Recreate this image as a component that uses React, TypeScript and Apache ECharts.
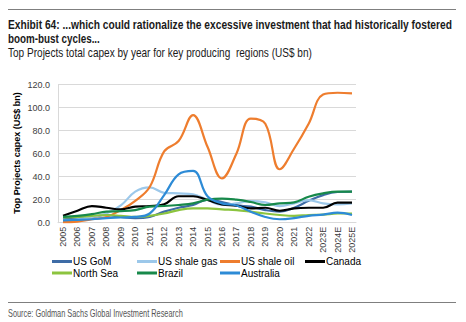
import React, { useEffect, useRef } from "react";
import * as echarts from "echarts";

const years = ["2005","2006","2007","2008","2009","2010","2011","2012","2013","2014","2015","2016","2017","2018","2019","2020","2021","2022","2023E","2024E","2025E"];
const usGoM = [3,4,5,6.7,5,4,5,9.6,13,15.4,20,18,15,14,11,9.6,13,19,24,26.7,27];
const usShaleGas = [2,3,5,8,15,27,30.7,26,25.5,24.6,20,15.4,16.8,18.8,17.7,14.5,16.8,19.7,16.8,16,16.8];
const usShaleOil = [0.5,1,3,5,11,19,31,62,71,93.5,66,38.5,60,90.5,86,46.5,64.5,86,111.5,113,112.5];
const canada = [6,10.4,14.5,13,11.6,14,14.5,16,23,23,19.7,16,14.8,12.5,13,10.4,12.5,13,13,17.4,17.4];
const northSea = [4.6,5,6,6.7,6,5,6,8,11,12.5,12.5,11.6,11,9.6,8,6.7,6,6.7,7,8,8];
const brazil = [5,6,7.5,9.6,10,11,14,14.5,15.4,16.8,20,21,20,18,15.4,16.8,17.7,22.6,25.5,27,27];
const australia = [2,2.5,3,4,4.5,5,8,24,42,45,23,16.8,15,9.6,5,3,4,6,7,8.7,6.7];
const yTicks = [0, 20, 40, 60, 80, 100, 120];
const yAxisTitle = "Top Projects capex (US$ bn)";

const seriesDefs = [
  { name: "US GoM", data: usGoM, color: "#3E6CA6" },
  { name: "US shale gas", data: usShaleGas, color: "#9CC8EA" },
  { name: "US shale oil", data: usShaleOil, color: "#EE7D2E" },
  { name: "Canada", data: canada, color: "#000000" },
  { name: "North Sea", data: northSea, color: "#8CC43F" },
  { name: "Brazil", data: brazil, color: "#17894A" },
  { name: "Australia", data: australia, color: "#2D8BD6" },
];

const SANS = "'Liberation Sans', Arial, sans-serif";

function measure(text: string, font: string): number {
  const c = document.createElement("canvas");
  const ctx = c.getContext("2d");
  if (!ctx) return text.length * 6;
  ctx.font = font;
  return ctx.measureText(text).width;
}

function fitText(text: string, font: string, x: number, y: number, targetWidth: number, fill: string) {
  const w = measure(text, font);
  const s = w > 0 ? targetWidth / w : 1;
  return { type: "text", x, y, scaleX: s, scaleY: 1, style: { text, font, fill, textVerticalAlign: "middle", textAlign: "left" } };
}

export default function App() {
  const ref = useRef<HTMLDivElement>(null);
  useEffect(() => {
    if (!ref.current) return;
    const chart = echarts.init(ref.current, null, { renderer: "svg" });
    const gTop = 84.7;
    const gHeight = 138;
    const tFont = `bold 13px ${SANS}`;
    const sFont = `12px ${SANS}`;
    const srcFont = `10.5px ${SANS}`;
    const legendX = [52, 137, 220, 305];
    const legendY = [256.5, 268];
    chart.setOption({
      animation: false,
      backgroundColor: "#ffffff",
      grid: [
        { left: 58, width: 298, top: gTop, height: gHeight, containLabel: false },
        { left: 63, width: 289, top: gTop, height: gHeight, containLabel: false },
      ],
      xAxis: [
        {
          type: "category", gridIndex: 0, data: years, boundaryGap: false,
          axisLine: { show: true, lineStyle: { color: "#d9d9d9" } },
          axisTick: { show: false }, axisLabel: { show: false }, splitLine: { show: false },
        },
        {
          type: "category", gridIndex: 1, data: years, boundaryGap: false,
          axisLine: { show: false }, axisTick: { show: false },
          axisLabel: { rotate: 90, fontSize: 9, color: "#404040", fontFamily: SANS, margin: 4, interval: 0 },
          splitLine: { show: false },
        },
      ],
      yAxis: [
        {
          type: "value", gridIndex: 0, min: yTicks[0], max: yTicks[yTicks.length - 1], interval: 20,
          axisLine: { show: true, lineStyle: { color: "#d9d9d9" } },
          axisTick: { show: false },
          axisLabel: { fontSize: 9, color: "#404040", fontFamily: SANS, margin: 8, formatter: (v: number) => v.toFixed(1) },
          splitLine: { show: true, lineStyle: { color: "#d9d9d9", width: 1 } },
        },
        {
          type: "value", gridIndex: 1, min: 0, max: 120, interval: 20,
          axisLine: { show: false }, axisTick: { show: false }, axisLabel: { show: false }, splitLine: { show: false },
        },
      ],
      legend: seriesDefs.map((s, i) => ({
        left: legendX[i % 4], top: legendY[Math.floor(i / 4)],
        itemWidth: 20, itemHeight: 3, icon: "rect", padding: 0,
        textStyle: { fontSize: 10, color: "#000", fontFamily: SANS, padding: [0, 0, 0, -4] },
        data: [s.name],
      })),
      series: seriesDefs.map((s) => ({
        name: s.name, type: "line", xAxisIndex: 1, yAxisIndex: 1, data: s.data,
        smooth: 0.4, showSymbol: false, symbol: "none",
        lineStyle: { color: s.color, width: 2.2 }, itemStyle: { color: s.color },
      })),
      graphic: [
        { type: "line", shape: { x1: 8, y1: 9.5, x2: 456, y2: 9.5 }, style: { stroke: "#7f7f7f", lineWidth: 1 } },
        fitText("Exhibit 64: ...which could rationalize the excessive investment that had historically fostered", tFont, 8, 24, 444, "#1a1a1a"),
        fitText("boom-bust cycles...", tFont, 8, 38.5, 92, "#1a1a1a"),
        fitText("Top Projects total capex by year for key producing  regions (US$ bn)", sFont, 8, 52.5, 304, "#1a1a1a"),
        {
          type: "text", x: 17, y: 153, rotation: Math.PI / 2,
          style: { text: yAxisTitle, font: `bold 9px ${SANS}`, fill: "#000", textAlign: "center", textVerticalAlign: "middle" },
        },
        { type: "line", shape: { x1: 8, y1: 302.5, x2: 456, y2: 302.5 }, style: { stroke: "#7f7f7f", lineWidth: 1 } },
        fitText("Source: Goldman Sachs Global Investment Research", srcFont, 8, 313.5, 175, "#555555"),
      ],
    });
    return () => chart.dispose();
  }, []);
  return <div ref={ref} style={{ width: 466, height: 322, position: "absolute", left: 0, top: 0 }} />;
}
